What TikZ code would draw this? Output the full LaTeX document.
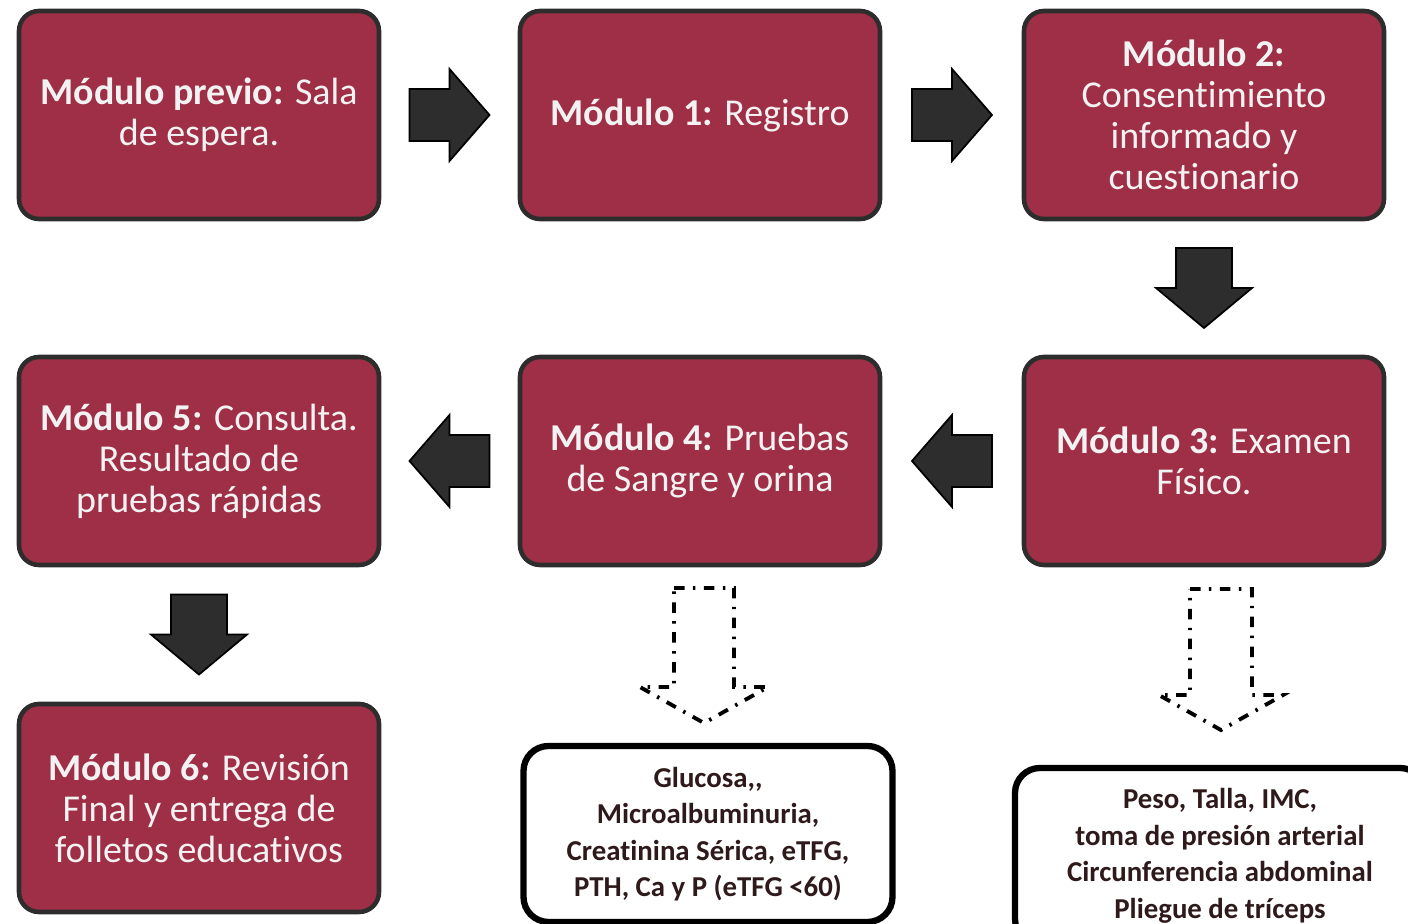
\documentclass[tikz,border=0pt]{standalone}
\usepackage{fontspec}
\setmainfont[Ligatures={NoCommon}]{Carlito}
\usetikzlibrary{calc}
\definecolor{modred}{HTML}{9E2F46}
\definecolor{arrgray}{HTML}{2D2D2D}
\definecolor{txtdark}{HTML}{2E1A1A}
\tikzset{
  modbox/.style={draw=arrgray, line width=1.3pt, fill=modred, rounded corners=0.2cm,
    minimum width=3.60cm, minimum height=2.08cm, align=center, text=white!95!black,
    font=\fontsize{10.8pt}{11.7pt}\selectfont},
  infobox/.style={draw=black, line width=1.8pt, fill=white, rounded corners=0.25cm,
    align=center, text=txtdark, font=\bfseries\fontsize{8.2pt}{10.4pt}\selectfont},
  blk/.style={fill=arrgray, draw=black, line width=0.5pt},
  dashblk/.style={draw=black, line width=1.1pt, dash pattern=on 3pt off 2.4pt on 0.7pt off 2.4pt}
}
\begin{document}
\begin{tikzpicture}[scale=1]
\clip (0,0) rectangle (14.08,9.24);
\coordinate (Cp) at (1.99,8.09);
\coordinate (C1) at (7.00,8.09);
\coordinate (C2) at (12.04,8.09);
\coordinate (C3) at (12.04,4.63);
\coordinate (C4) at (7.00,4.63);
\coordinate (C5) at (1.99,4.63);
\coordinate (C6) at (1.99,1.16);
\coordinate (D4) at (7.08,0.90);
\coordinate (D3) at (12.20,0.68);

\node[modbox] (prev) at (Cp) {\textbf{Módulo previo:} Sala\\de espera.};
\node[modbox] (m1) at (C1) {\textbf{Módulo 1:} Registro};
\node[modbox] (m2) at (C2) {\textbf{Módulo 2:}\\Consentimiento\\informado y\\cuestionario};
\node[modbox] (m3) at (C3) {\textbf{Módulo 3:} Examen\\Físico.};
\node[modbox] (m4) at (C4) {\textbf{Módulo 4:} Pruebas\\de Sangre y orina};
\node[modbox] (m5) at (C5) {\textbf{Módulo 5:} Consulta.\\Resultado de\\pruebas rápidas};
\node[modbox] (m6) at (C6) {\textbf{Módulo 6:} Revisión\\Final y entrega de\\folletos educativos};

\node[infobox, minimum width=3.69cm, minimum height=1.76cm] (t4) at (D4)
  {Glucosa,{},\\Microalbuminuria,\\Creatinina Sérica, eTFG,\\PTH, Ca y P (eTFG <60)};
\node[infobox, minimum width=4.10cm, minimum height=1.76cm] (t3) at (D3)
  {Peso, Talla, IMC,\\toma de presión arterial\\Circunferencia abdominal\\Pliegue de tríceps};

% block arrows between modules
\draw[blk, shift={($(prev.east)!0.5!(m1.west)$)}] (-0.40,0.26) -- (0,0.26) -- (0,0.46) -- (0.40,0) -- (0,-0.46) -- (0,-0.26) -- (-0.40,-0.26) -- cycle;
\draw[blk, shift={($(m1.east)!0.5!(m2.west)$)}] (-0.40,0.26) -- (0,0.26) -- (0,0.46) -- (0.40,0) -- (0,-0.46) -- (0,-0.26) -- (-0.40,-0.26) -- cycle;
\draw[blk, shift={($(m2.south)!0.5!(m3.north)$)}, rotate=-90] (-0.40,0.28) -- (0,0.28) -- (0,0.48) -- (0.40,0) -- (0,-0.48) -- (0,-0.28) -- (-0.40,-0.28) -- cycle;
\draw[blk, shift={($(m3.west)!0.5!(m4.east)$)}, rotate=180] (-0.40,0.26) -- (0,0.26) -- (0,0.46) -- (0.40,0) -- (0,-0.46) -- (0,-0.26) -- (-0.40,-0.26) -- cycle;
\draw[blk, shift={($(m4.west)!0.5!(m5.east)$)}, rotate=180] (-0.40,0.26) -- (0,0.26) -- (0,0.46) -- (0.40,0) -- (0,-0.46) -- (0,-0.26) -- (-0.40,-0.26) -- cycle;
\draw[blk, shift={($(m5.south)!0.5!(m6.north)$)}, rotate=-90] (-0.40,0.28) -- (0,0.28) -- (0,0.48) -- (0.40,0) -- (0,-0.48) -- (0,-0.28) -- (-0.40,-0.28) -- cycle;

% hollow arrows to the details
\draw[dashblk, shift={($(m4.south)!0.5!(t4.north)$)}] (-0.30,0.67) -- (0.30,0.67) -- (0.30,-0.32) -- (0.64,-0.32) -- (0,-0.68) -- (-0.64,-0.32) -- (-0.30,-0.32) -- cycle;
\draw[dashblk, shift={($(m3.south)!0.5!(t3.north)+(0.09,0.07)$)}] (-0.31,0.70) -- (0.31,0.70) -- (0.31,-0.36) -- (0.62,-0.36) -- (0,-0.71) -- (-0.62,-0.36) -- (-0.31,-0.36) -- cycle;
\end{tikzpicture}
\end{document}
